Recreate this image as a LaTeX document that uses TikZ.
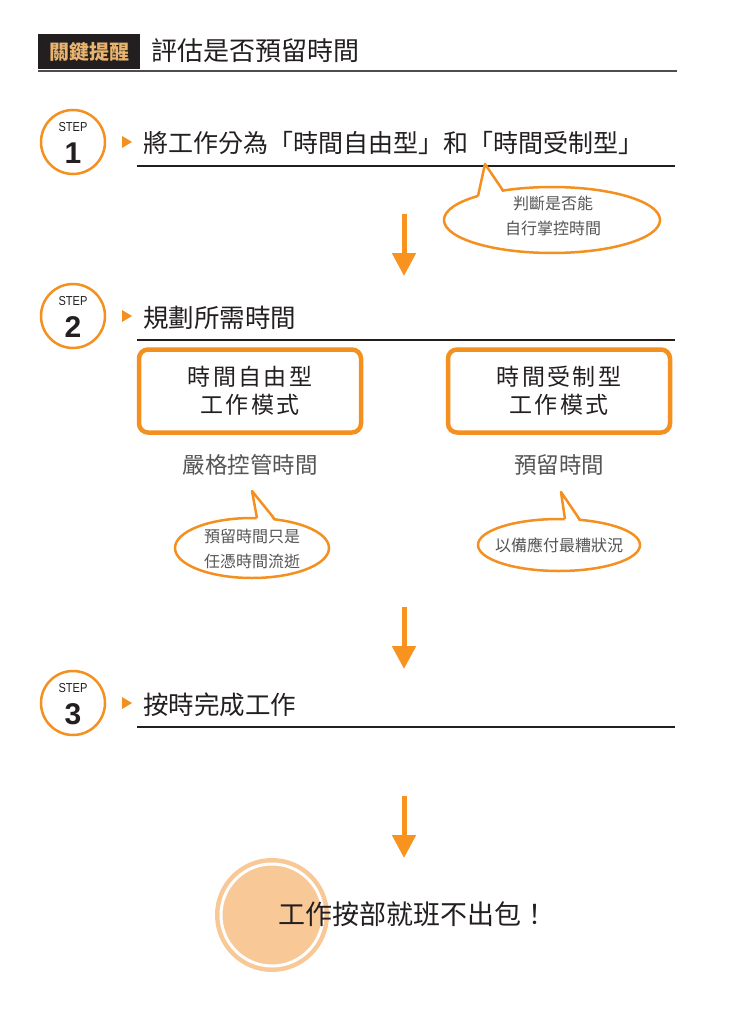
\documentclass[tikz,border=0pt]{standalone}
\usepackage{fontspec}
\newfontfamily\cjk{Noto Sans CJK TC}
\newfontfamily\cjksp{Noto Sans CJK TC}[LetterSpace=10]
\newfontfamily\lat{Liberation Sans}
\usetikzlibrary{arrows.meta,shapes.geometric,calc}
\definecolor{org}{HTML}{F39020}
\definecolor{arr}{HTML}{F7931E}
\definecolor{ink}{HTML}{231F20}
\definecolor{gtext}{HTML}{555555}
\definecolor{gold}{HTML}{E9B46E}
\definecolor{peach}{HTML}{F9C897}
\definecolor{hdrline}{HTML}{4D4D4D}
\newcommand{\bubtail}[6]{%
  \fill[white] (#2) -- ($(#1.center)+(#3,#4+3)$) -- ($(#1.center)+(#5,#6+3)$) -- cycle;
  \draw[org, line width=2.5pt, line join=round] ($(#1.center)+(#3,#4)$) -- (#2) -- ($(#1.center)+(#5,#6)$);}
\begin{document}
\begin{tikzpicture}[x=1pt,y=-1pt,
  stepcirc/.style={circle, draw=org, line width=2.5pt, fill=white, minimum size=64pt, inner sep=0pt},
  steplbl/.style={font=\lat\fontsize{13}{13}\selectfont, text=ink, inner sep=0pt, xscale=0.85},
  stepnum/.style={font=\lat\bfseries\fontsize{30}{30}\selectfont, text=ink, inner sep=0pt},
  steptitle/.style={anchor=west, font=\cjk\fontsize{25.5}{25.5}\selectfont, text=ink, inner sep=0pt},
  marker/.style={fill=org},
  rulel/.style={draw=ink, line width=1.8pt},
  flowarrow/.style={draw=arr, line width=5pt, -{Triangle[width=23pt,length=23pt]}},
  bubble/.style={ellipse, draw=org, line width=2.5pt, fill=white, inner sep=0pt},
  bubtext/.style={font=\cjk\fontsize{16}{25}\selectfont, text=gtext, align=center, inner sep=0pt},
  modebox/.style={rectangle, rounded corners=9pt, draw=org, line width=4.5pt, fill=white,
    minimum width=222pt, minimum height=83pt, align=center, text=ink,
    font=\cjksp\fontsize{23}{28}\selectfont},
  subtext/.style={font=\cjk\fontsize{22.5}{22.5}\selectfont, text=gtext, inner sep=0pt}
]
\useasboundingbox (0,0) rectangle (744,1024);
\fill[white] (0,0) rectangle (744,1024);

% header
\node[fill=ink, minimum width=102pt, minimum height=35pt, inner sep=0pt,
  text=gold, font=\cjk\bfseries\fontsize{20}{20}\selectfont] (hdr) at (89,52) {關鍵提醒};
\node[anchor=west, font=\cjk\fontsize{26}{26}\selectfont, text=ink, inner sep=0pt] (title) at (151,51) {評估是否預留時間};
\coordinate (hl1) at (38,71);
\coordinate (hl2) at (677,71);
\draw[hdrline, line width=1.8pt] (hl1) -- (hl2);

% STEP 1
\node[stepcirc] (s1) at (73,142) {};
\node[steplbl] (s1l) at ($(s1.center)+(0,-15)$) {STEP};
\node[stepnum] (s1n) at ($(s1.center)+(0,11)$) {1};
\fill[marker] (122,136) -- (132,142) -- (122,148) -- cycle;
\node[steptitle, font=\cjk\fontsize{25}{25}\selectfont] (t1) at (143,143) {將工作分為「時間自由型」和「時間受制型」};
\coordinate (r1a) at (137,166);
\coordinate (r1b) at (675,166);
\draw[rulel] (r1a) -- (r1b);

\node[bubble, minimum width=216pt, minimum height=66pt] (b1) at (552,220) {};
\coordinate (b1tip) at (485,164);
\bubtail{b1}{b1tip}{-74}{-24}{-49}{-29.5}
\node[bubtext] (b1t) at (553,216) {判斷是否能\\自行掌控時間};

\coordinate (a1s) at (404,214);
\coordinate (a1e) at (404,276);
\draw[flowarrow] (a1s) -- (a1e);

% STEP 2
\node[stepcirc] (s2) at (73,316) {};
\node[steplbl] (s2l) at ($(s2.center)+(0,-15)$) {STEP};
\node[stepnum] (s2n) at ($(s2.center)+(0,11)$) {2};
\fill[marker] (122,310) -- (132,316) -- (122,322) -- cycle;
\node[steptitle] (t2) at (143,318) {規劃所需時間};
\coordinate (r2a) at (137,340);
\coordinate (r2b) at (675,340);
\draw[rulel] (r2a) -- (r2b);

\node[modebox] (m1) at (250,391) {時間自由型\\工作模式};
\node[modebox] (m2) at (559,391) {時間受制型\\工作模式};
\node[subtext] (st1) at (250,465) {嚴格控管時間};
\node[subtext] (st2) at (559,465) {預留時間};

\node[bubble, minimum width=154pt, minimum height=60pt] (b2) at (252,548) {};
\coordinate (b2tip) at (252,491);
\bubtail{b2}{b2tip}{5}{-29.8}{23}{-28.5}
\node[bubtext] (b2t) at (252,549) {預留時間只是\\任憑時間流逝};

\node[bubble, minimum width=162pt, minimum height=52pt] (b3) at (559,545) {};
\coordinate (b3tip) at (561,492);
\bubtail{b3}{b3tip}{6}{-25.8}{21}{-25}
\node[bubtext] (b3t) at (559,545) {以備應付最糟狀況};

\coordinate (a2s) at (404,607);
\coordinate (a2e) at (404,669);
\draw[flowarrow] (a2s) -- (a2e);

% STEP 3
\node[stepcirc] (s3) at (73,703) {};
\node[steplbl] (s3l) at ($(s3.center)+(0,-15)$) {STEP};
\node[stepnum] (s3n) at ($(s3.center)+(0,11)$) {3};
\fill[marker] (122,697) -- (132,703) -- (122,709) -- cycle;
\node[steptitle] (t3) at (143,705) {按時完成工作};
\coordinate (r3a) at (137,727);
\coordinate (r3b) at (675,727);
\draw[rulel] (r3a) -- (r3b);

\coordinate (a3s) at (404,796);
\coordinate (a3e) at (404,858);
\draw[flowarrow] (a3s) -- (a3e);

% result
\node[circle, fill=peach, minimum size=114pt, inner sep=0pt] (fc) at (272,915) {};
\draw[white, line width=3pt] (fc.center) circle[radius=51];
\node[font=\cjk\fontsize{27}{27}\selectfont, text=ink, inner sep=0pt] (fin) at (413,914) {工作按部就班不出包！};
\end{tikzpicture}
\end{document}
